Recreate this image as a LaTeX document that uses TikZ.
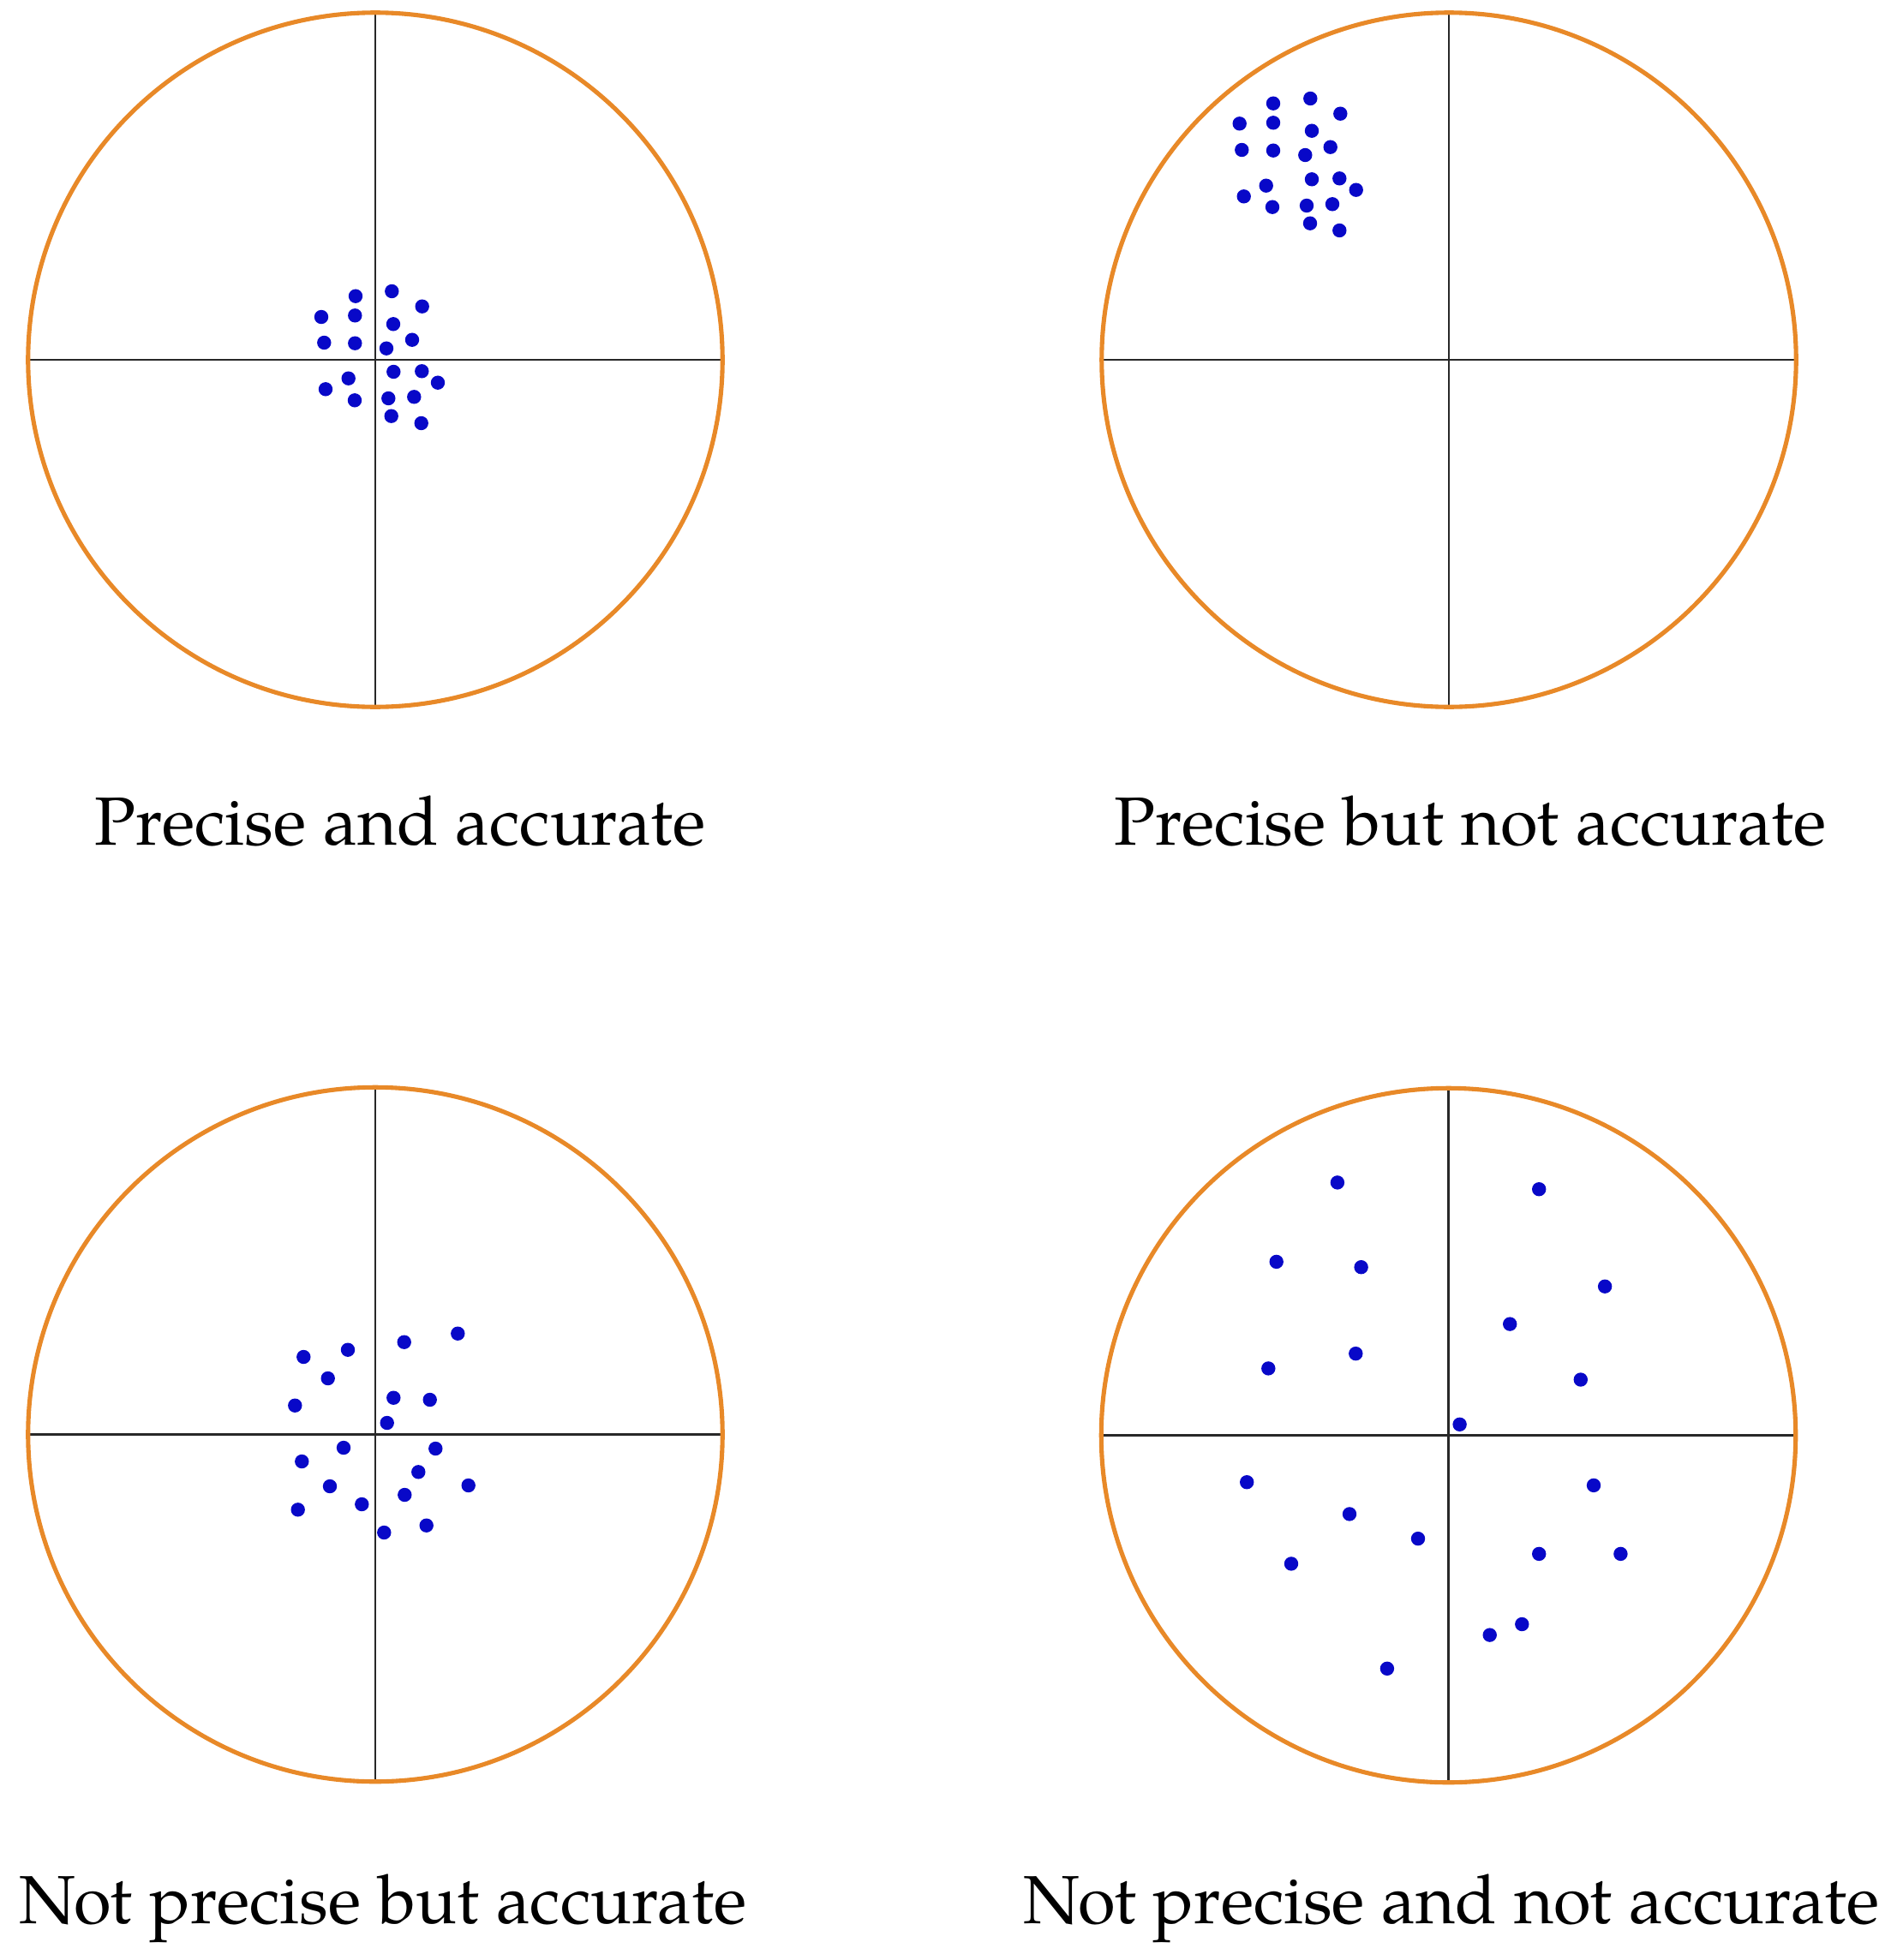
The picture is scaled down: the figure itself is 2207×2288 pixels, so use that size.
\documentclass[tikz,border=0pt]{standalone}
\usepackage{fontspec}
\setmainfont{TeX Gyre Pagella}
\definecolor{ringorange}{RGB}{232,137,40}
\definecolor{dotblue}{RGB}{8,8,200}
\definecolor{axisgray}{RGB}{40,40,40}
\begin{document}
\begin{tikzpicture}[x=0.01cm,y=-0.01cm,
  ring/.style={draw=ringorange,line width=1.45pt},
  axis/.style={draw=axisgray,line width=0.6pt},
  hit/.style={fill=dotblue},
  caption/.style={anchor=base,inner sep=0pt,font=\fontsize{22.6pt}{26pt}\selectfont}]
\useasboundingbox (0,0) rectangle (2207,2288);
% centres
\coordinate (c1) at (438,420);
\coordinate (c2) at (1691,420);
\coordinate (c3) at (438,1674.5);
\coordinate (c4) at (1690.5,1675.5);
\foreach \c in {c1,c2,c3,c4}{
  \draw[axis] ([xshift=-4.05cm]\c) -- ([xshift=4.05cm]\c);
  \draw[axis] ([yshift=-4.05cm]\c) -- ([yshift=4.05cm]\c);
  \draw[ring] (\c) circle (4.05cm);
}
% cluster 1
\foreach \p/\q in {415/345.7,457.3/340,492.7/357.7,375/370,414.3/368.3,459/378.3,378.3/400,414.3/400.7,481/396.7,451/406.7,459.3/434,492.3/433.3,406.7/441.7,511/446.7,380/454.3,414/467.3,453.3/465,483.3/463.3,456.7/485.7,491.7/494}
  \fill[hit] (\p,\q) circle (0.082cm);
% cluster 2
\foreach \p/\q in {1486/120.7,1529.3/115,1564.3/132.7,1446.7/144.3,1486/143.3,1531/152.7,1449.3/175,1486/175.7,1552.7/171.7,1523.3/181,1531/209.3,1563.3/208.3,1477.7/216.7,1582.7/221.7,1451.7/229.3,1485/241.7,1525/240,1555/238.3,1529/260.7,1563.3/269}
  \fill[hit] (\p,\q) circle (0.082cm);
% cluster 3
\foreach \p/\q in {534.3/1556.7,471.7/1566.7,406/1575.7,354.3/1584,382.7/1609,344.3/1640.7,459.3/1631.7,501.7/1634,451.7/1661,401/1690,508.3/1691,352.3/1706,488.3/1718.3,546.7/1734,385/1735,472.3/1745,347.7/1762.3,422.3/1756,497.7/1780.7,448.3/1789}
  \fill[hit] (\p,\q) circle (0.082cm);
% cluster 4
\foreach \p/\q in {1560.9/1380.4,1796.2/1388.2,1489.7/1472.9,1588.6/1479.2,1873.1/1501.7,1762.2/1545.6,1582.3/1580.1,1480.3/1597.4,1844.8/1610.5,1703.6/1662.8,1455.2/1730.2,1860/1733.9,1575/1767.4,1655/1796.1,1507/1825.4,1796.2/1813.9,1891.4/1813.9,1776.3/1896,1738.7/1908.6,1618.9/1947.8}
  \fill[hit] (\p,\q) circle (0.082cm);
% captions
\node[caption] (t1) at (467,986) {Precise and accurate};
\node[caption] (t2) at (1716,986) {Precise but not accurate};
\node[caption] (t3) at (447,2245) {Not precise but accurate};
\node[caption] (t4) at (1694,2245) {Not precise and not accurate};
\end{tikzpicture}
\end{document}
